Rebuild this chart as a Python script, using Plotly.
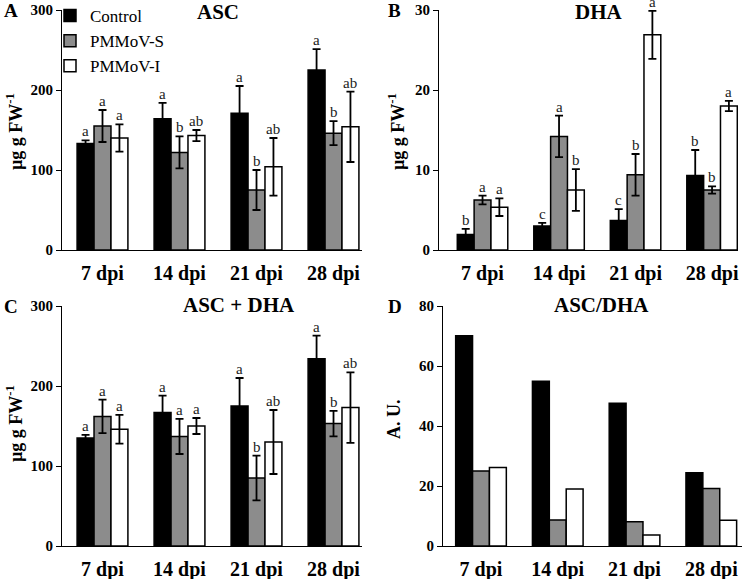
import plotly.graph_objects as go

W, H = 750, 579

days = ['7 dpi', '14 dpi', '21 dpi', '28 dpi']
series = ['Control', 'PMMoV-S', 'PMMoV-I']

# ASC
asc_ctrl = [133, 164, 171, 225]
asc_s = [155, 122, 75, 146]
asc_i = [140, 143, 104, 154]
asc_ctrl_err = [4, 20, 34, 26]
asc_s_err = [20, 20, 25, 15]
asc_i_err = [17, 7, 36, 44]
asc_letters = [['a', 'a', 'a', 'a'], ['a', 'b', 'b', 'b'], ['a', 'ab', 'ab', 'ab']]

# DHA
dha_ctrl = [1.95, 3.0, 3.7, 9.3]
dha_s = [6.25, 14.2, 9.4, 7.5]
dha_i = [5.35, 7.5, 26.9, 18.0]
dha_ctrl_err = [0.7, 0.4, 1.4, 3.2]
dha_s_err = [0.55, 2.6, 2.6, 0.45]
dha_i_err = [1.1, 2.6, 3.0, 0.65]
dha_letters = [['b', 'c', 'c', 'b'], ['a', 'a', 'b', 'b'], ['a', 'b', 'a', 'a']]

# ASC + DHA
tot_ctrl = [135, 167, 175, 234]
tot_s = [162, 137, 85, 153]
tot_i = [146, 150, 130, 173]
tot_ctrl_err = [4, 21, 35, 29]
tot_s_err = [21, 22, 28, 16]
tot_i_err = [18, 10, 40, 44]
tot_letters = [['a', 'a', 'a', 'a'], ['a', 'a', 'b', 'b'], ['a', 'a', 'ab', 'ab']]

# ASC/DHA
ratio_ctrl = [70.1, 54.9, 47.6, 24.4]
ratio_s = [25.0, 8.7, 8.1, 19.2]
ratio_i = [26.2, 19.0, 3.7, 8.6]

colors = ['#000000', '#8c8c8c', '#ffffff']
SERIF = 'Liberation Serif'
BARGAP = 0.34
bw = (1 - BARGAP) / 3

panels = [
    dict(vals=[asc_ctrl, asc_s, asc_i], errs=[asc_ctrl_err, asc_s_err, asc_i_err],
         letters=asc_letters, ax=''),
    dict(vals=[dha_ctrl, dha_s, dha_i], errs=[dha_ctrl_err, dha_s_err, dha_i_err],
         letters=dha_letters, ax='2'),
    dict(vals=[tot_ctrl, tot_s, tot_i], errs=[tot_ctrl_err, tot_s_err, tot_i_err],
         letters=tot_letters, ax='3'),
    dict(vals=[ratio_ctrl, ratio_s, ratio_i], errs=None, letters=None, ax='4'),
]

fig = go.Figure()
annotations = []
for p_i, p in enumerate(panels):
    for s_i, name in enumerate(series):
        err = None
        if p['errs'] is not None:
            err = dict(type='data', array=p['errs'][s_i], color='black',
                       thickness=1.8, width=4)
        fig.add_trace(go.Bar(
            x=days, y=p['vals'][s_i], name=name,
            marker=dict(color=colors[s_i], line=dict(color='black', width=1.5)),
            error_y=err,
            xaxis='x' + p['ax'], yaxis='y' + p['ax'],
            showlegend=(p_i == 0), legendgroup=name,
        ))
        if p['letters'] is not None:
            for d_i in range(len(days)):
                annotations.append(dict(
                    x=d_i + (s_i - 1) * bw,
                    y=p['vals'][s_i][d_i] + p['errs'][s_i][d_i],
                    xref='x' + p['ax'], yref='y' + p['ax'],
                    text=p['letters'][s_i][d_i], showarrow=False,
                    yanchor='bottom', yshift=0, borderpad=0,
                    font=dict(family=SERIF, size=15, color='#222'),
                ))


def px(x):
    return x / W


def py(y):
    return 1 - y / H


# titles, panel letters, y-axis titles
texts = [
    ('ASC', 218, 12, 0, 21), ('DHA', 599, 12, 0, 21),
    ('ASC + DHA', 239, 305, 0, 21), ('ASC/DHA', 601, 305, 0, 21),
    ('A', 11, 11, 0, 19), ('B', 395, 11, 0, 19),
    ('C', 11, 306, 0, 19), ('D', 395, 306, 0, 19),
    ('µg g FW<sup>-1</sup>', 14, 132, -90, 18), ('µg g FW<sup>-1</sup>', 396, 132, -90, 18),
    ('µg g FW<sup>-1</sup>', 14, 424, -90, 18), ('A. U.', 394, 419, -90, 18),
]
for t, x, y, ang, sz in texts:
    annotations.append(dict(
        x=px(x), y=py(y), xref='paper', yref='paper', text=t, showarrow=False,
        textangle=ang, xanchor='center', yanchor='middle', borderpad=0,
        font=dict(family=SERIF, size=sz, color='black', weight='bold'),
    ))

xcommon = dict(type='category', showline=True, linecolor='black', linewidth=1,
               ticks='outside', ticklen=5, tickcolor='rgba(0,0,0,0)',
               tickfont=dict(family=SERIF, size=20, color='black', weight='bold'),
               showgrid=False, zeroline=False, automargin=False)
ycommon = dict(showline=True, linecolor='black', linewidth=1, ticks='outside',
               ticklen=5, tickcolor='black', showgrid=False, zeroline=False,
               automargin=False,
               tickfont=dict(family=SERIF, size=15, color='black', weight='bold'))

fig.update_layout(
    width=W, height=H,
    margin=dict(l=0, r=0, t=0, b=0, autoexpand=False),
    paper_bgcolor='white', plot_bgcolor='white',
    barmode='group', bargap=BARGAP, bargroupgap=0,
    xaxis=dict(xcommon, domain=[px(62), px(362)], range=[-0.526, 3.37], anchor='y'),
    yaxis=dict(ycommon, domain=[py(250), py(10)], range=[0, 300], dtick=100, anchor='x'),
    xaxis2=dict(xcommon, domain=[px(439), px(738)], range=[-0.569, 3.339], anchor='y2'),
    yaxis2=dict(ycommon, domain=[py(250), py(10)], range=[0, 30], dtick=10, anchor='x2'),
    xaxis3=dict(xcommon, domain=[px(62), px(362)], range=[-0.526, 3.37], anchor='y3'),
    yaxis3=dict(ycommon, domain=[py(546), py(306)], range=[0, 300], dtick=100, anchor='x3'),
    xaxis4=dict(xcommon, domain=[px(443), px(742)], range=[-0.495, 3.40], anchor='y4'),
    yaxis4=dict(ycommon, domain=[py(546), py(306)], range=[0, 80], dtick=20, anchor='x4'),
    legend=dict(x=px(50), y=py(-2), xanchor='left', yanchor='top',
                bgcolor='rgba(0,0,0,0)', tracegroupgap=0,
                font=dict(family=SERIF, size=17, color='black')),
    annotations=annotations,
)

fig.write_html(
    'out.html',
    config={'displayModeBar': False},
    post_script="document.body.style.margin='0';document.body.style.overflow='hidden';",
)
